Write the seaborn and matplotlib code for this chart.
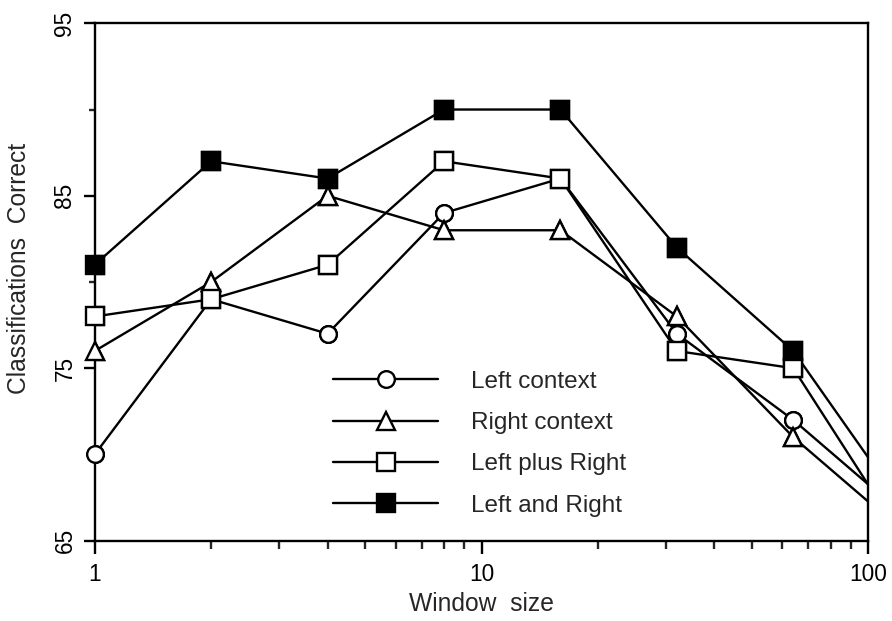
import matplotlib
matplotlib.use("Agg")
import matplotlib.pyplot as plt
from matplotlib.ticker import FixedLocator, NullFormatter, LogLocator
import pandas as pd
import seaborn as sns

# Classification accuracy vs. context window size
window_size = [1, 2, 4, 8, 16, 32, 64, 128]
left_context = [70, 79, 77, 84, 86, 77, 72, 66.2]
right_context = [76, 80, 85, 83, 83, 78, 71, 65.2]
left_plus_right = [78, 79, 81, 87, 86, 76, 75, 64.5]
left_and_right = [81, 87, 86, 90, 90, 82, 76, 66.4]

series_names = ["Left context", "Right context", "Left plus Right", "Left and Right"]
y_major = [65, 75, 85, 95]
y_minor = [70, 80, 90]
x_major = [1, 10, 100]
x_tick_labels = ["1", "10", "100"]

sns.set_style("ticks")
plt.rcParams["font.family"] = ["Liberation Sans", "DejaVu Sans"]

frames = []
for name, vals in zip(series_names,
                      [left_context, right_context, left_plus_right, left_and_right]):
    frames.append(pd.DataFrame({"Window": window_size, "Correct": vals, "Series": name}))
df = pd.concat(frames, ignore_index=True)

marker_style = {
    "Left context": ("o", "white", 12.0),
    "Right context": ("^", "white", 12.5),
    "Left plus Right": ("s", "white", 12.5),
    "Left and Right": ("s", "black", 12.5),
}
LW = 1.7

fig = plt.figure(figsize=(8.92, 6.21), dpi=100)
ax = fig.add_axes([0.1062, 0.1293, 0.8672, 0.8332])
ax.set_xscale("log")

for i, name in enumerate(series_names):
    m, fc, ms = marker_style[name]
    sub = df[df["Series"] == name]
    # full line, clipped at the plot frame
    sns.lineplot(data=sub, x="Window", y="Correct", ax=ax, color="black",
                 linewidth=LW, marker=m, markersize=ms, markerfacecolor=fc,
                 markeredgecolor="black", markeredgewidth=LW, label=name,
                 zorder=2 + i)
    # markers inside the x range, drawn unclipped so edge markers stay whole
    inside = sub[sub["Window"] <= 100]
    sns.lineplot(data=inside, x="Window", y="Correct", ax=ax, color="black",
                 linestyle="none", marker=m, markersize=ms, markerfacecolor=fc,
                 markeredgecolor="black", markeredgewidth=LW, legend=False,
                 zorder=10 + i, clip_on=False)

ax.set_xlim(1, 100)
ax.set_ylim(65, 95)

ax.xaxis.set_major_locator(FixedLocator(x_major))
ax.set_xticklabels(x_tick_labels)
ax.xaxis.set_minor_locator(LogLocator(base=10, subs=range(2, 10)))
ax.xaxis.set_minor_formatter(NullFormatter())

ax.yaxis.set_major_locator(FixedLocator(y_major))
ax.yaxis.set_minor_locator(FixedLocator(y_minor))
ax.set_yticklabels([str(v) for v in y_major], rotation=90, va="center")

ax.tick_params(axis="x", which="major", direction="out", length=9, width=LW,
               pad=7.0, labelsize=16.3, colors="black")
ax.tick_params(axis="x", which="minor", direction="out", length=5.5, width=LW)
ax.tick_params(axis="y", which="major", direction="out", length=8.2, width=LW,
               pad=5.0, labelsize=16.3, colors="black")
ax.tick_params(axis="y", which="minor", direction="out", length=4.6, width=LW)

for side in ["left", "right", "top", "bottom"]:
    ax.spines[side].set_visible(True)
    ax.spines[side].set_linewidth(LW)
    ax.spines[side].set_color("black")

ax.set_xlabel("Window  size", fontsize=17.7)
ax.set_ylabel("Classifications  Correct", fontsize=17.7)
ax.xaxis.set_label_coords(0.5, -0.100)
ax.yaxis.set_label_coords(-0.0823, 0.527)

ax.legend(loc="upper left", bbox_to_anchor=(0.3084, 0.328), frameon=False,
          fontsize=17.5, handlelength=4.32, handletextpad=1.36,
          labelspacing=0.79, borderpad=0, borderaxespad=0)

ax.grid(False)
fig.savefig("out.png", dpi=100, facecolor="white")
